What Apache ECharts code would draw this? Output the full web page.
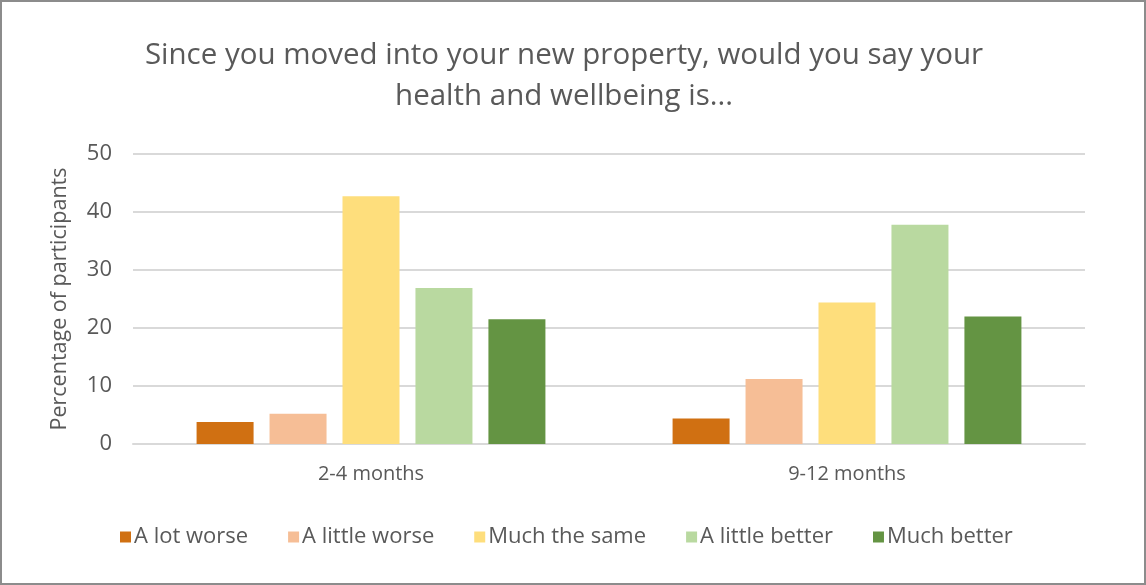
<!DOCTYPE html>
<html>
<head>
<meta charset="utf-8">
<script src="https://cdn.jsdelivr.net/npm/echarts@6/dist/echarts.min.js"></script>
<style>
  html, body { margin: 0; padding: 0; background: #fff; }
  #chart { position: absolute; left: 0; top: 0; width: 1142px; height: 581px; border: 2px solid #8c8c8c; }
</style>
</head>
<body>
<div id="chart"></div>
<script>
// categories and values
var periods = ["2-4 months", "9-12 months"];
var seriesNames = ["A lot worse", "A little worse", "Much the same", "A little better", "Much better"];
var seriesColors = ["#D07012", "#F6BE96", "#FEDE7C", "#B9D9A0", "#649443"];
var aLotWorse = [3.8, 4.4];
var aLittleWorse = [5.2, 11.2];
var muchTheSame = [42.7, 24.4];
var aLittleBetter = [26.9, 37.8];
var muchBetter = [21.5, 22.0];
var yTicks = [0, 10, 20, 30, 40, 50];

var values = [aLotWorse, aLittleWorse, muchTheSame, aLittleBetter, muchBetter];
var textColor = "#595959";
var font = "Open Sans";

var chart = echarts.init(document.getElementById("chart"));

var series = seriesNames.map(function (name, i) {
  return {
    name: name,
    type: "bar",
    data: values[i],
    barWidth: 57,
    barGap: "28%",
    itemStyle: { color: seriesColors[i] }
  };
});

var option = {
  animation: false,
  textStyle: { fontFamily: font },
  title: {
    text: "Since you moved into your new property, would you say your\nhealth and wellbeing is...",
    left: 557,
    top: 28,
    textAlign: "center",
    textStyle: { fontFamily: font, fontSize: 29.5, fontWeight: "normal", color: textColor, lineHeight: 41 }
  },
  legend: {
    data: seriesNames,
    bottom: 30,
    left: 113,
    itemWidth: 11,
    itemHeight: 11,
    itemGap: 40,
    icon: "rect",
    textStyle: { fontFamily: font, fontSize: 22, color: textColor, padding: [0, 0, 0, -2] }
  },
  grid: { left: 131, right: 59, top: 152, bottom: 139, containLabel: false },
  xAxis: {
    type: "category",
    data: periods,
    axisLine: { lineStyle: { color: "#d9d9d9", width: 2 } },
    axisTick: { show: false },
    axisLabel: { fontFamily: font, fontSize: 20, color: textColor, margin: 20 }
  },
  yAxis: {
    type: "value",
    min: yTicks[0],
    max: yTicks[yTicks.length - 1],
    interval: 10,
    name: "Percentage of participants",
    nameLocation: "middle",
    nameGap: 62,
    nameTextStyle: { fontFamily: font, fontSize: 21.5, color: textColor },
    axisLine: { show: false },
    axisTick: { show: false },
    splitLine: { lineStyle: { color: "#d9d9d9", width: 2 } },
    axisLabel: { fontFamily: font, fontSize: 22, color: textColor, margin: 21 }
  },
  series: series
};

chart.setOption(option);
</script>
</body>
</html>
